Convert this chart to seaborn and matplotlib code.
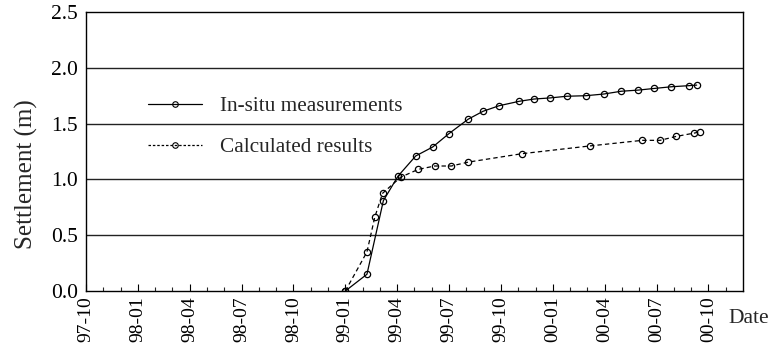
import matplotlib
matplotlib.use("Agg")
import matplotlib.pyplot as plt
import seaborn as sns
import pandas as pd
import numpy as np
from matplotlib.lines import Line2D

# months counted from 1997-10 (0) ; axis spans 97-10 .. 00-12
insitu_month = [15.0, 16.25, 17.2, 18.05, 19.07, 20.05, 20.99, 22.11, 22.96, 23.89,
                25.06, 25.91, 26.84, 27.8, 28.92, 29.95, 30.96, 31.93, 32.87, 33.85,
                34.88, 35.32]
insitu_settle = [0.0, 0.15, 0.81, 1.03, 1.21, 1.29, 1.41, 1.54, 1.61, 1.66,
                 1.70, 1.72, 1.73, 1.745, 1.75, 1.765, 1.79, 1.80, 1.815, 1.83,
                 1.84, 1.845]
calc_month = [15.0, 16.25, 16.7, 17.15, 18.2, 19.22, 20.17, 21.13, 22.11, 25.2,
              29.15, 32.18, 33.2, 34.13, 35.18, 35.49]
calc_settle = [0.0, 0.35, 0.66, 0.875, 1.02, 1.09, 1.12, 1.12, 1.155, 1.23,
               1.30, 1.35, 1.35, 1.385, 1.415, 1.425]

tick_labels = ["97-10", "98-01", "98-04", "98-07", "98-10", "99-01", "99-04",
               "99-07", "99-10", "00-01", "00-04", "00-07", "00-10"]
y_ticks = [0.0, 0.5, 1.0, 1.5, 2.0, 2.5]
series_names = ["In-situ measurements", "Calculated results"]

sns.set_theme(style="white")
plt.rcParams["font.family"] = ["Liberation Serif", "DejaVu Serif"]

fig = plt.figure(figsize=(7.68, 3.43), dpi=100)
ax = fig.add_axes([86 / 768, 1 - 291 / 343, (743 - 86) / 768, (291 - 12) / 343])

df1 = pd.DataFrame({"month": insitu_month, "settle": insitu_settle})
df2 = pd.DataFrame({"month": calc_month, "settle": calc_settle})

sns.lineplot(data=df1, x="month", y="settle", ax=ax, color="black", lw=0.9,
             marker="o", markersize=4.5, markerfacecolor="none",
             markeredgecolor="black", markeredgewidth=0.9, linestyle="-",
             sort=False, legend=False, zorder=3)
sns.lineplot(data=df2, x="month", y="settle", ax=ax, color="black", lw=0.9,
             marker="o", markersize=4.5, markerfacecolor="none",
             markeredgecolor="black", markeredgewidth=0.9, linestyle=(0, (3.5, 2.5)),
             sort=False, legend=False, zorder=3)

ax.set_xlim(0, 38)
ax.set_ylim(0, 2.5)
for yv in y_ticks[1:-1]:
    ax.axhline(yv, color="#222222", lw=1.0, zorder=1)

major = np.arange(0, 37, 3)
ax.set_xticks(major)
ax.set_xticklabels(tick_labels, rotation=90, fontsize=14)
ax.set_xticks(np.arange(0, 38, 1), minor=True)
ax.tick_params(axis="x", which="major", direction="in", length=5, width=0.8,
               bottom=True, pad=4, colors="black")
ax.tick_params(axis="x", which="minor", direction="in", length=3, width=0.8,
               bottom=True)
ax.set_yticks(y_ticks)
ax.set_yticklabels([f"{v:.1f}" for v in y_ticks], fontsize=15.5)
ax.tick_params(axis="y", left=False, length=0, pad=6, colors="black")
ax.set_xlabel("")
ax.set_ylabel("Settlement (m)", fontsize=18)
ax.yaxis.set_label_coords((38 - 86) / 657, (291 - 174) / 279)

for s in ax.spines.values():
    s.set_color("black")
    s.set_linewidth(1.0)
    s.set_visible(True)

ax.text((728 - 86) / 657, -0.1, "Date", transform=ax.transAxes,
        fontsize=15.5, ha="left", va="center")

handles = [
    Line2D([], [], color="black", lw=0.9, marker="o", markersize=4,
           markerfacecolor="none", markeredgewidth=0.8),
    Line2D([], [], color="black", lw=0.9, linestyle=(0, (2, 1.5)), marker="o",
           markersize=4, markerfacecolor="none", markeredgewidth=0.8),
]
leg = ax.legend(handles, series_names, loc="upper left",
                bbox_to_anchor=((139 - 86) / 657, (291 - 88) / 279),
                frameon=False, fontsize=15.3, handlelength=2.55, handletextpad=0.85,
                labelspacing=1.0, borderaxespad=0)

fig.savefig("out.png", dpi=100)
